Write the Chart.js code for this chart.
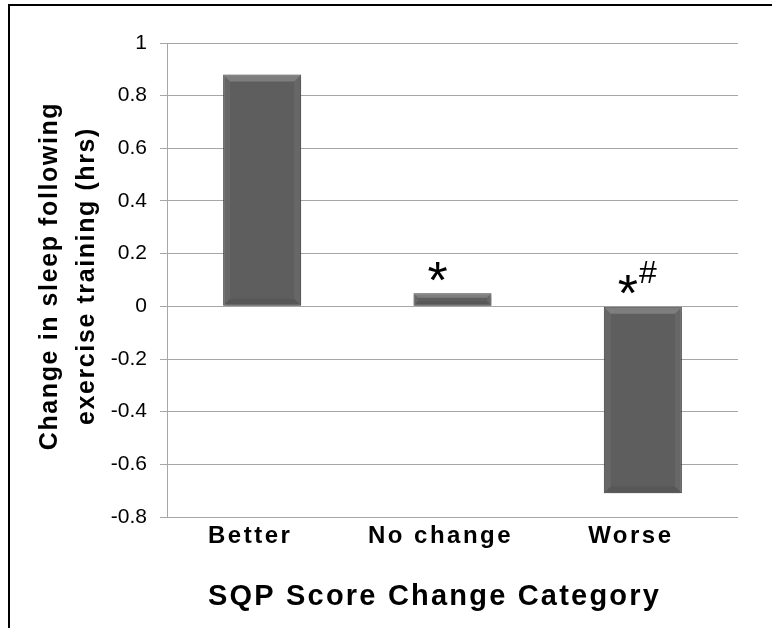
<!DOCTYPE html>
<html>
<head>
<meta charset="utf-8">
<script src="https://cdn.jsdelivr.net/npm/chart.js@4.4.0/dist/chart.umd.min.js"></script>
<style>
html, body { margin: 0; padding: 0; background: #fff; overflow: hidden; }
#frame { position: absolute; left: 8px; top: 4px; width: 900px; height: 800px; border: 2px solid #000; }
#wrap { position: absolute; left: 0; top: 0; width: 772px; height: 628px; }
</style>
</head>
<body>
<div id="frame"></div>
<div id="wrap"><canvas id="chart" width="772" height="628"></canvas></div>
<script>
// data
const categories = ['Better', 'No change', 'Worse'];
const sleepChange = [0.88, 0.05, -0.71];
const sigMarks = ['', '*', '*#'];
const yTicks = [1, 0.8, 0.6, 0.4, 0.2, 0, -0.2, -0.4, -0.6, -0.8];
const xTitle = 'SQP Score Change Category';
const yTitle = ['Change in sleep following', 'exercise training (hrs)'];

const family = '"Liberation Sans", Arial, sans-serif';

// the original text is set a little wider than Arial, so spread the letters
const textStretch = {
    x: { labels: '2.5px', title: '2.2px', shift: [-18, 0] },
    y: { title: '1.6px', shift: [0, -4] }
};

const spacingPlugin = {
    id: 'spacing',
    afterUpdate(chart) {
        const ctx = chart.ctx;
        Object.entries(textStretch).forEach(([id, cfg]) => {
            const scale = chart.scales[id];
            if (!scale || scale._spaced) return;
            scale._spaced = true;
            const origTitle = scale.drawTitle.bind(scale);
            scale.drawTitle = function () {
                ctx.save();
                ctx.letterSpacing = cfg.title;
                ctx.translate(cfg.shift[0], cfg.shift[1]);
                origTitle();
                ctx.restore();
            };
            if (cfg.labels) {
                const origLabels = scale.drawLabels.bind(scale);
                scale.drawLabels = function (area) {
                    ctx.save();
                    ctx.letterSpacing = cfg.labels;
                    origLabels(area);
                    ctx.restore();
                };
            }
        });
    }
};

// soft shadow + bevel on the bars
const bevelPlugin = {
    id: 'bevel',
    beforeDatasetsDraw(chart) {
        const ctx = chart.ctx;
        ctx.save();
        ctx.shadowColor = 'rgba(0,0,0,0.3)';
        ctx.shadowBlur = 5;
        ctx.shadowOffsetX = 1;
        ctx.shadowOffsetY = 2;
    },
    afterDatasetsDraw(chart) {
        const ctx = chart.ctx;
        ctx.restore();
        chart.getDatasetMeta(0).data.forEach(bar => {
            const { x, y, base, width } = bar.getProps(['x', 'y', 'base', 'width'], true);
            const l = x - width / 2 + 1, r = x + width / 2 - 1;
            const t = Math.min(y, base) + 1, b = Math.max(y, base) - 1;
            const d = Math.min(6, (b - t) / 3);
            ctx.save();
            ctx.fillStyle = 'rgba(255,255,255,0.2)';
            ctx.beginPath();
            ctx.moveTo(l, t); ctx.lineTo(r, t); ctx.lineTo(r - d, t + d); ctx.lineTo(l + d, t + d);
            ctx.closePath(); ctx.fill();
            ctx.fillStyle = 'rgba(255,255,255,0.06)';
            ctx.beginPath();
            ctx.moveTo(l, t); ctx.lineTo(l + d, t + d); ctx.lineTo(l + d, b - d); ctx.lineTo(l, b);
            ctx.closePath(); ctx.fill();
            ctx.beginPath();
            ctx.moveTo(r, t); ctx.lineTo(r - d, t + d); ctx.lineTo(r - d, b - d); ctx.lineTo(r, b);
            ctx.closePath(); ctx.fill();
            ctx.fillStyle = 'rgba(0,0,0,0.07)';
            ctx.beginPath();
            ctx.moveTo(l, b); ctx.lineTo(r, b); ctx.lineTo(r - d, b - d); ctx.lineTo(l + d, b - d);
            ctx.closePath(); ctx.fill();
            ctx.restore();
        });
    }
};

// significance marks above the bars
const marksPlugin = {
    id: 'marks',
    afterDatasetsDraw(chart) {
        const ctx = chart.ctx;
        const yScale = chart.scales.y;
        chart.getDatasetMeta(0).data.forEach((bar, i) => {
            const mark = sigMarks[i];
            if (!mark) return;
            const top = yScale.getPixelForValue(Math.max(sleepChange[i], 0));
            let x = bar.x - 25;
            ctx.save();
            ctx.fillStyle = '#000';
            ctx.textAlign = 'left';
            ctx.textBaseline = 'alphabetic';
            for (const ch of mark) {
                if (ch === '*') {
                    ctx.font = '52px ' + family;
                    ctx.fillText(ch, x, top + 5);
                } else {
                    ctx.font = '32px ' + family;
                    ctx.fillText(ch, x + 1, top - 23);
                }
                x += ctx.measureText(ch).width;
            }
            ctx.restore();
        });
    }
};

new Chart(document.getElementById('chart'), {
    type: 'bar',
    data: {
        labels: categories,
        datasets: [{
            data: sleepChange,
            backgroundColor: '#5e5e5e',
            borderColor: '#474747',
            borderWidth: 1,
            borderSkipped: false,
            barPercentage: 0.41,
            categoryPercentage: 1
        }]
    },
    options: {
        responsive: false,
        animation: false,
        layout: { padding: { left: 20, top: 43, right: 34, bottom: 0 } },
        plugins: {
            legend: { display: false },
            tooltip: { enabled: false }
        },
        scales: {
            x: {
                grid: { display: false, drawTicks: false },
                border: { display: false },
                ticks: {
                    color: '#000',
                    padding: 5,
                    labelOffset: -12,
                    font: { family: family, size: 24, weight: 'bold' }
                },
                title: {
                    display: true,
                    text: xTitle,
                    color: '#000',
                    font: { family: family, size: 29, weight: 'bold', lineHeight: 1.2 },
                    padding: { top: 0, bottom: 14 }
                },
                afterFit(s) { s.height = 111; }
            },
            y: {
                min: -0.8,
                max: 1,
                afterBuildTicks(s) { s.ticks = yTicks.map(v => ({ value: v })); },
                grid: { color: '#a6a6a6', tickLength: 7, lineWidth: 1 },
                border: { color: '#a6a6a6' },
                ticks: {
                    color: '#000',
                    padding: 13,
                    font: { family: family, size: 21 },
                    callback: v => String(Math.round(v * 10) / 10)
                },
                title: {
                    display: true,
                    text: yTitle,
                    color: '#000',
                    font: { family: family, size: 25, weight: 'bold', lineHeight: 1.48 },
                    padding: { top: 12, bottom: 0 }
                },
                afterFit(s) { s.width = 147; }
            }
        }
    },
    plugins: [bevelPlugin, marksPlugin, spacingPlugin]
});
</script>
</body>
</html>
